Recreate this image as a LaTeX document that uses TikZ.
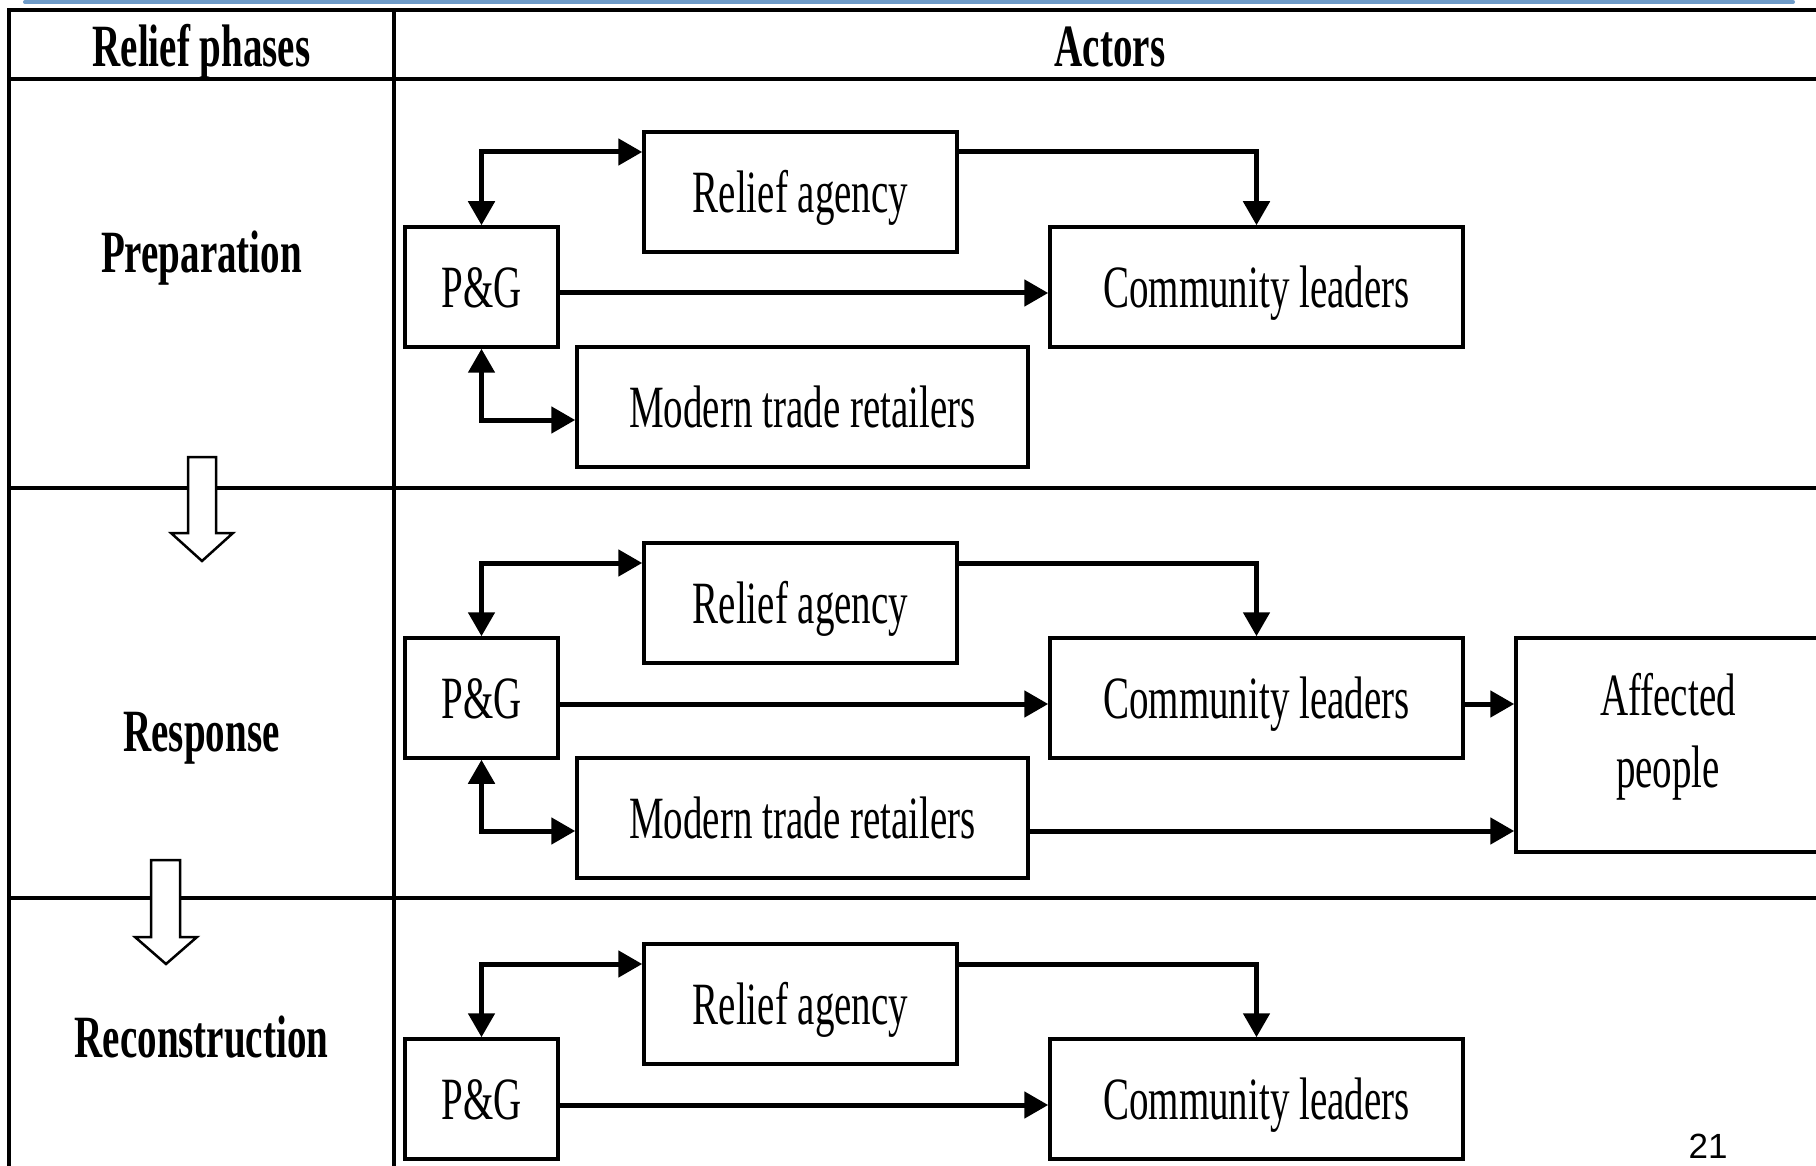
\documentclass[tikz,border=0pt]{standalone}
\usepackage{fontspec}
\setmainfont{Liberation Serif}[FakeStretch=0.65]
\newfontfamily\numfont{Liberation Sans}
\usetikzlibrary{arrows.meta,calc}
\definecolor{topblue}{RGB}{110,155,200}
\begin{document}
\begin{tikzpicture}[x=1pt,y=-1pt,
  box/.style={draw, line width=3.5pt, inner sep=0pt, font=\fontsize{60}{72}\selectfont, align=center, text height=41pt, text depth=0pt},
  plainbox/.style={draw, line width=3.5pt, inner sep=0pt},
  arr/.style={line width=5pt, -{Triangle[length=24pt,width=26pt]}},
  darr/.style={line width=5pt, {Triangle[length=24pt,width=26pt]}-{Triangle[length=24pt,width=26pt]}},
  gridline/.style={line width=3.5pt},
  hollow/.style={draw, line width=2.5pt, fill=white, line join=miter},
  phase/.style={font=\fontsize{60}{72}\selectfont\bfseries, text height=41pt, text depth=0pt, inner sep=0pt}]
\useasboundingbox (0,0) rectangle (1816,1166);
\clip (0,0) rectangle (1816,1166);
\fill[white] (0,0) rectangle (1816,1166);
% top blue rule
\draw[topblue, line width=4pt, line cap=round] (25,2) -- (1793,2);
% table
\draw[gridline] (9,1170) -- (9,10) -- (1820,10);
\draw[gridline] (394,10) -- (394,1170);
\draw[gridline] (9,79) -- (1820,79);
\draw[gridline] (9,488) -- (1820,488);
\draw[gridline] (9,898) -- (1820,898);
% headers
\node[phase] (h1) at (201.5,46) {Relief phases};
\node[phase] (h2) at (1110,46) {Actors};
\node[phase] (p1) at (201.5,252.5) {Preparation};
\node[phase] (p2) at (201.5,731) {Response};
\node[phase] (p3) at (201.5,1037) {Reconstruction};
% hollow arrows
\draw[hollow] (188,457) -- (216,457) -- (216,533) -- (233,533) -- (202,561) -- (171,533) -- (188,533) -- cycle;
\draw[hollow] (151,860) -- (180,860) -- (180,937) -- (197,937) -- (166,964) -- (135,937) -- (151,937) -- cycle;
% sections
\foreach \s/\dy in {a/0,b/411,c/812}{
  \begin{scope}[yshift=-\dy pt]
    \node[box, minimum width=153pt, minimum height=120pt] (pg\s) at (481.5,287) {P\&G};
    \node[box, minimum width=313pt, minimum height=120pt] (ra\s) at (800.5,192) {Relief agency};
    \node[box, minimum width=413pt, minimum height=120pt] (cl\s) at (1256.5,287) {Community leaders};
    \coordinate (t\s) at (481.5,152);
    \coordinate (m\s) at (481.5,293);
    \coordinate (b\s) at (481.5,420);
    \draw[darr] (pg\s.north) |- (ra\s.west |- t\s);
    \draw[arr] (ra\s.east |- t\s) -| (cl\s.north);
    \draw[arr] (pg\s.east |- m\s) -- (cl\s.west |- m\s);
  \end{scope}
}
\foreach \s/\dy in {a/0,b/411}{
  \begin{scope}[yshift=-\dy pt]
    \node[box, minimum width=451pt, minimum height=120pt] (mtr\s) at (802.5,407) {Modern trade retailers};
    \draw[darr] (pg\s.south) |- (mtr\s.west |- b\s);
  \end{scope}
}
% affected people
\node[plainbox, minimum width=304pt, minimum height=214pt] (ap) at (1668,745) {};
\node[font=\fontsize{60}{72}\selectfont, align=center, inner sep=0pt] (aptext) at ([yshift=8pt]ap.center) {Affected\\people};
\draw[arr] (clb.east |- mb) -- (ap.west |- mb);
\draw[arr] (mtrb.east |- bb) -- (ap.west |- bb);
% page number
\node[font=\numfont\fontsize{35}{40}\selectfont] (pn) at (1708,1146) {21};
\end{tikzpicture}
\end{document}
